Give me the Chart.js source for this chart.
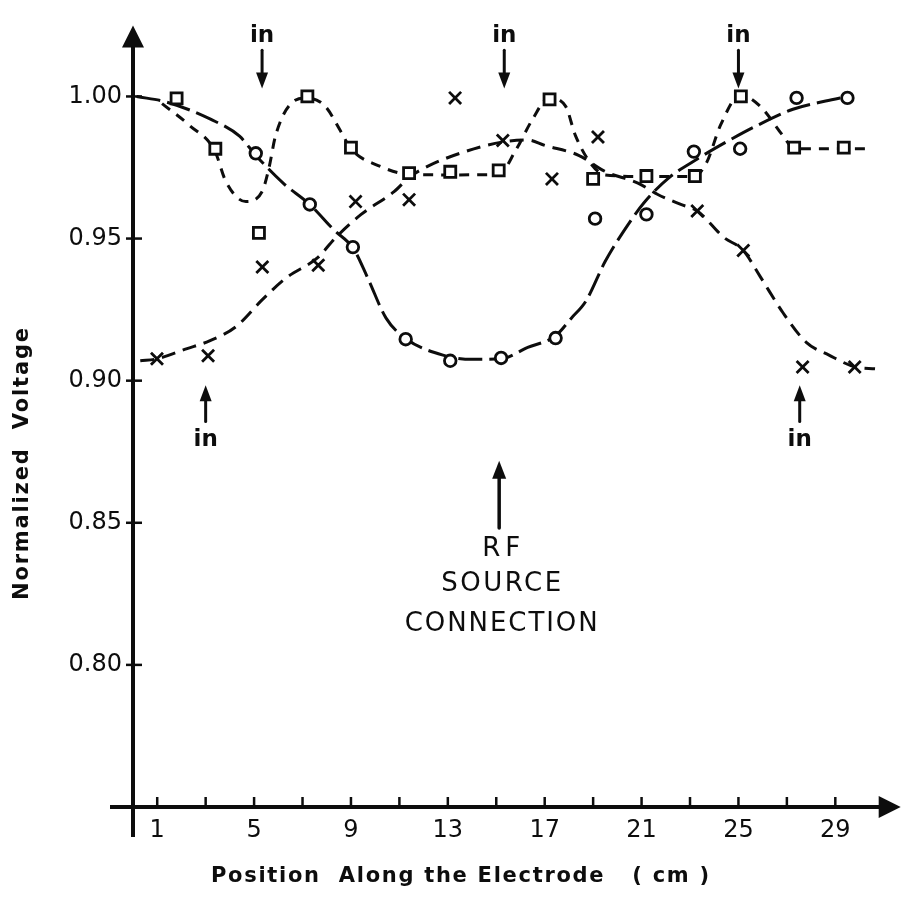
<!DOCTYPE html>
<html><head><meta charset="utf-8">
<script src="https://cdn.jsdelivr.net/npm/chart.js@4.4.0/dist/chart.umd.min.js"></script>
<style>html,body{margin:0;padding:0;background:#fff;overflow:hidden}#wrap{width:912px;height:907px}</style>
</head><body><div id="wrap"><canvas id="c" width="912" height="907"></canvas></div>
<script>
// ---- tick labels ----
const xTickLabels = [1, 5, 9, 13, 17, 21, 25, 29];
const xMinorTicks = [1, 3, 5, 7, 9, 11, 13, 15, 17, 19, 21, 23, 25, 27, 29];
const yTickLabels = [0.80, 0.85, 0.90, 0.95, 1.00];

// ---- measured points ----
const squareX = [1.8, 3.4, 5.2, 7.2, 9.0, 11.4, 13.1, 15.1, 17.2, 19.0, 21.2, 23.2, 25.1, 27.3, 29.35];
const squareY = [0.9993, 0.9816, 0.952, 1.000, 0.982, 0.973, 0.9735, 0.974, 0.999, 0.971, 0.972, 0.972, 1.000, 0.982, 0.982];

const circleX = [5.07, 7.3, 9.08, 11.26, 13.1, 15.2, 17.45, 19.08, 21.2, 23.16, 25.07, 27.4, 29.5];
const circleY = [0.980, 0.962, 0.947, 0.9146, 0.907, 0.908, 0.915, 0.957, 0.9585, 0.9806, 0.9816, 0.9995, 0.9995];

const crossX = [0.99, 3.1, 5.34, 7.65, 9.19, 11.4, 13.3, 15.27, 17.3, 19.2, 23.3, 25.2, 27.65, 29.8];
const crossY = [0.9077, 0.9088, 0.940, 0.9406, 0.963, 0.9637, 0.9995, 0.9845, 0.971, 0.9857, 0.9597, 0.9458, 0.9048, 0.9048];

// ---- hand-drawn fitted curves ----
const circleFitX = [0.15, 1.4, 3.2, 4.4, 5.1, 6.2, 7.3, 8.3, 9.1, 9.7, 10.45, 11.3, 12.8, 14.0, 15.2, 16.3, 17.45, 18.1, 18.7, 19.5, 20.45, 21.1, 22.1, 23.3, 24.5, 25.75, 27.25, 28.6, 29.5];
const circleFitY = [1.000, 0.998, 0.992, 0.986, 0.979, 0.9695, 0.962, 0.953, 0.9465, 0.936, 0.922, 0.9146, 0.909, 0.9075, 0.9077, 0.9117, 0.9158, 0.922, 0.928, 0.942, 0.955, 0.9626, 0.9712, 0.978, 0.984, 0.9897, 0.9955, 0.9984, 1.000];

const squareFitX = [1.2, 2.35, 3.37, 3.84, 4.66, 5.34, 5.61, 5.89, 6.56, 7.18, 7.93, 8.6, 9.0, 10.24, 11.4, 13.1, 15.1, 15.8, 16.5, 17.17, 17.86, 18.27, 18.95, 19.5, 21.2, 23.16, 23.7, 24.25, 25.07, 25.89, 26.84, 27.3, 29.35, 30.4];
const squareFitY = [0.9975, 0.9897, 0.981, 0.970, 0.963, 0.9667, 0.9747, 0.9863, 0.9978, 0.9995, 0.9966, 0.9874, 0.9816, 0.9753, 0.9726, 0.9724, 0.9726, 0.981, 0.992, 0.9995, 0.9966, 0.9862, 0.9759, 0.9724, 0.9718, 0.9718, 0.977, 0.9897, 1.0005, 0.9966, 0.9862, 0.9816, 0.9816, 0.9816];

const crossFitX = [0.3, 1.0, 2.2, 3.16, 4.25, 5.34, 6.3, 7.65, 8.33, 9.42, 10.78, 11.4, 12.14, 13.5, 15.27, 16.3, 17.0, 18.4, 19.5, 20.85, 21.67, 22.62, 23.3, 24.4, 25.2, 25.9, 26.84, 27.8, 28.74, 29.83, 30.64];
const crossFitY = [0.907, 0.9077, 0.9112, 0.914, 0.919, 0.9285, 0.936, 0.9435, 0.950, 0.9585, 0.9665, 0.9715, 0.9753, 0.980, 0.984, 0.9847, 0.9828, 0.9793, 0.9736, 0.9695, 0.9655, 0.962, 0.9597, 0.9504, 0.9458, 0.9366, 0.9239, 0.9135, 0.909, 0.9048, 0.9042];

// ---- annotation texts ----
const inLabel = 'in';
const rfLines = ['RF', 'SOURCE', 'CONNECTION'];
const xTitle = 'Position  Along the Electrode   ( cm )';
const yTitle = 'Normalized  Voltage';

// annotation anchors in data units
const topArrowX = [5.33, 15.33, 25.0];
const bottomArrowX = [3.0, 27.53];
const rfArrowX = 15.12;

const pts = (xs, ys) => xs.map((x, i) => ({x: x, y: ys[i]}));
const INK = '#0d0d0d';
const FONT = '"DejaVu Sans", sans-serif';

function arrow(ctx, x, yTail, yTip, headLen, headW, lw) {
  const dir = yTip > yTail ? 1 : -1;
  ctx.save();
  ctx.strokeStyle = INK; ctx.fillStyle = INK; ctx.lineWidth = lw; ctx.lineCap = 'round';
  ctx.beginPath(); ctx.moveTo(x, yTail); ctx.lineTo(x, yTip - dir * headLen * 0.6); ctx.stroke();
  ctx.beginPath(); ctx.moveTo(x, yTip); ctx.lineTo(x - headW / 2, yTip - dir * headLen);
  ctx.lineTo(x + headW / 2, yTip - dir * headLen); ctx.closePath(); ctx.fill();
  ctx.restore();
}
function spacedText(ctx, text, cx, cy, width) {
  ctx.letterSpacing = '0px';
  const w0 = ctx.measureText(text).width;
  const ls = Math.max(0, (width - w0) / Math.max(1, text.length - 1));
  ctx.letterSpacing = ls + 'px';
  const w1 = ctx.measureText(text).width;
  ctx.fillText(text, cx - w1 / 2 + ls / 2, cy);
  ctx.letterSpacing = '0px';
}

const axesPlugin = {
  id: 'axesPlugin',
  beforeDatasetsDraw(chart) {
    const {ctx, scales: {x, y}} = chart;
    const x0 = x.getPixelForValue(0), yb = y.getPixelForValue(0.75);
    const yTop = chart.chartArea.top, xRight = chart.chartArea.right;
    ctx.save();
    ctx.strokeStyle = INK; ctx.fillStyle = INK; ctx.lineWidth = 4; ctx.lineCap = 'butt';
    // y axis
    ctx.beginPath(); ctx.moveTo(x0, yb + 30); ctx.lineTo(x0, yTop + 18); ctx.stroke();
    ctx.beginPath(); ctx.moveTo(x0, yTop); ctx.lineTo(x0 - 11, yTop + 22); ctx.lineTo(x0 + 11, yTop + 22); ctx.closePath(); ctx.fill();
    // x axis
    ctx.beginPath(); ctx.moveTo(x0 - 23, yb); ctx.lineTo(xRight - 18, yb); ctx.stroke();
    ctx.beginPath(); ctx.moveTo(xRight, yb); ctx.lineTo(xRight - 22, yb - 11); ctx.lineTo(xRight - 22, yb + 11); ctx.closePath(); ctx.fill();
    // ticks
    ctx.lineWidth = 2.5;
    yTickLabels.forEach(v => {
      const py = y.getPixelForValue(v);
      ctx.beginPath(); ctx.moveTo(x0 - 7, py); ctx.lineTo(x0 + 9, py); ctx.stroke();
    });
    xMinorTicks.forEach(v => {
      const px = x.getPixelForValue(v);
      ctx.beginPath(); ctx.moveTo(px, yb - 10); ctx.lineTo(px, yb); ctx.stroke();
    });
    ctx.restore();
  },
  afterDraw(chart) {
    const {ctx, scales: {x, y}} = chart;
    ctx.save();
    ctx.fillStyle = INK;
    ctx.textAlign = 'left'; ctx.textBaseline = 'middle';
    // titles
    ctx.font = 'bold 21px ' + FONT;
    spacedText(ctx, xTitle, 460, 877, 498);
    ctx.save();
    ctx.translate(23, 464); ctx.rotate(-Math.PI / 2);
    ctx.font = 'bold 21px ' + FONT;
    spacedText(ctx, yTitle, 0, 0, 272);
    ctx.restore();
    // "in" arrows on top
    ctx.font = 'bold 23px ' + FONT;
    topArrowX.forEach(v => {
      const px = x.getPixelForValue(v);
      spacedText(ctx, inLabel, px, y.getPixelForValue(1.0212), 0);
      arrow(ctx, px, y.getPixelForValue(1.0163), y.getPixelForValue(1.0028), 16, 12, 3);
    });
    bottomArrowX.forEach(v => {
      const px = x.getPixelForValue(v);
      spacedText(ctx, inLabel, px, y.getPixelForValue(0.8792), 0);
      arrow(ctx, px, y.getPixelForValue(0.8856), y.getPixelForValue(0.8984), 16, 12, 3);
    });
    // RF source
    const rx = x.getPixelForValue(rfArrowX);
    arrow(ctx, rx, y.getPixelForValue(0.8482), y.getPixelForValue(0.8718), 18, 14, 3.5);
    ctx.font = '500 26px ' + FONT;
    const rfY = [0.8406, 0.8284, 0.8142];
    const rfW = [38, 120, 193];
    rfLines.forEach((t, i) => spacedText(ctx, t, rx + 2, y.getPixelForValue(rfY[i]), rfW[i]));
    ctx.restore();
  }
};

const lineDs = (xs, ys, dash) => ({
  type: 'line', data: pts(xs, ys), borderColor: INK, borderWidth: 3, borderDash: dash,
  pointRadius: 0, fill: false, cubicInterpolationMode: 'monotone', order: 2
});
const markDs = (xs, ys, style, r) => ({
  type: 'scatter', data: pts(xs, ys), showLine: false, pointStyle: style, pointRadius: r,
  borderColor: INK, backgroundColor: '#ffffff', borderWidth: 2.8, order: 1
});

new Chart(document.getElementById('c'), {
  data: {
    datasets: [
      markDs(circleX, circleY, 'circle', 5.8),
      markDs(squareX, squareY, 'rect', 7.8),
      markDs(crossX, crossY, 'crossRot', 8.5),
      lineDs(circleFitX, circleFitY, [24, 7]),
      lineDs(squareFitX, squareFitY, [10, 8]),
      lineDs(crossFitX, crossFitY, [14, 8])
    ]
  },
  options: {
    responsive: false, animation: false, devicePixelRatio: 1,
    layout: {padding: {top: 14, right: 2, left: 0, bottom: 0}},
    plugins: {legend: {display: false}, tooltip: {enabled: false}},
    scales: {
      x: {
        type: 'linear', min: 0, max: 31.7,
        afterBuildTicks: s => { s.ticks = xTickLabels.map(v => ({value: v})); },
        afterFit: s => { s.height = 100; },
        grid: {display: false, drawTicks: false}, border: {display: false},
        ticks: {color: INK, font: {family: FONT, size: 24}, padding: 9, maxRotation: 0, autoSkip: false, callback: v => String(v)}
      },
      y: {
        type: 'linear', min: 0.75, max: 1.025,
        afterBuildTicks: s => { s.ticks = yTickLabels.map(v => ({value: v})); },
        afterFit: s => { s.width = 133; },
        grid: {display: false, drawTicks: false}, border: {display: false},
        ticks: {color: INK, font: {family: FONT, size: 24}, padding: 11, callback: v => v.toFixed(2)}
      }
    }
  },
  plugins: [axesPlugin]
});
</script></body></html>
